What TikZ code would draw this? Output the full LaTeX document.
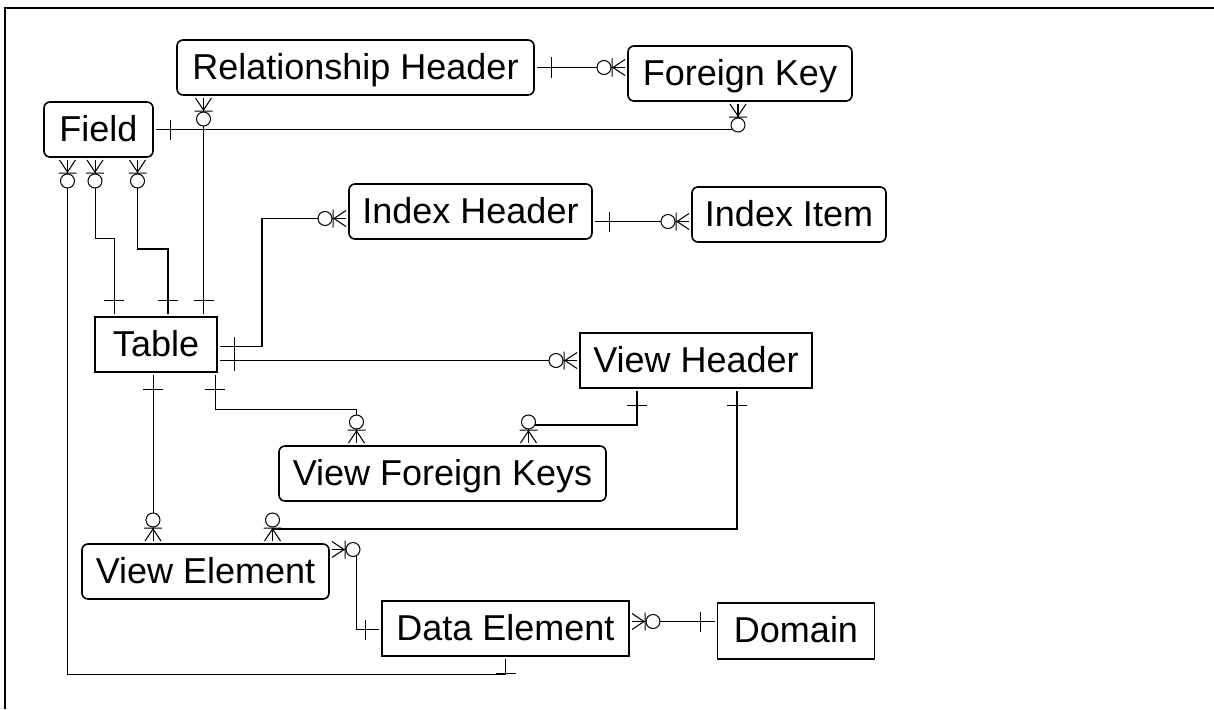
\documentclass[tikz,border=0pt]{standalone}
\usepackage{fontspec}
\setmainfont{Liberation Sans}
\usetikzlibrary{decorations.markings,calc}

% ER end marks, drawn with the outward direction along +x
\newcommand{\onemark}{\draw[line width=1pt] (14pt,-10pt) -- (14pt,10pt);}
\newcommand{\manymark}{%
  \draw[line width=1pt] (0pt,-8pt) -- (12pt,0pt) -- (0pt,8pt) (13pt,-9pt) -- (13pt,9pt);
  \draw[line width=1pt,fill=white] (21pt,0pt) circle[radius=7pt];}

\tikzset{
  entity/.style={draw,line width=1.6pt,minimum height=55pt,inner xsep=4pt,
    text height=30pt,text depth=7pt,outer sep=3pt,font=\fontsize{36}{40}\selectfont},
  roundent/.style={entity,rounded corners=6pt},
  rel/.style={line width=1.3pt},
  relthin/.style={line width=0.8pt},
  one-many/.style={postaction={decorate,decoration={markings,
      mark=at position 0 with {\onemark},
      mark=at position 1 with {\begin{scope}[xscale=-1]\manymark\end{scope}}}}},
  many-one/.style={postaction={decorate,decoration={markings,
      mark=at position 0 with {\manymark},
      mark=at position 1 with {\begin{scope}[xscale=-1]\onemark\end{scope}}}}}
}

\begin{document}
\begin{tikzpicture}[x=1pt,y=-1pt]
\useasboundingbox (0,0) rectangle (1214,709);
\draw[line width=2pt] (1214,8) -- (5,8) -- (5,709);

% entities
\node[roundent,minimum width=357pt] (relhdr) at (355.5,67.5) {Relationship Header};
\node[roundent,minimum width=224pt] (fkey) at (740,73.5) {Foreign Key};
\node[roundent,minimum width=109pt] (field) at (98.5,129.5) {Field};
\node[roundent,minimum width=243pt] (idxhdr) at (470.5,211.5) {Index Header};
\node[roundent,minimum width=194pt] (idxitem) at (789,214.5) {Index Item};
\node[entity,minimum width=122pt] (tbl) at (156,344.5) {Table};
\node[entity,minimum width=232pt] (viewhdr) at (696,360.5) {View Header};
\node[roundent,minimum width=327pt] (viewfk) at (442.5,473.5) {View Foreign Keys};
\node[roundent,minimum width=247pt] (viewel) at (205.5,571.5) {View Element};
\node[entity,minimum width=247pt] (dataet) at (505.5,628.5) {Data Element};
\node[entity,minimum width=157pt,minimum height=56pt] (domain) at (796,631) {Domain};

% relationships
\draw[rel,one-many] (field.east) -| ([xshift=-2pt]fkey.south);
\draw[rel,one-many] (relhdr.east) -- (relhdr.east -| fkey.west);
\draw[rel,many-one] ([xshift=-152pt]relhdr.south) -- ([xshift=-152pt]relhdr.south |- tbl.north);
\draw[relthin,many-one] ([xshift=-31pt]field.south) |- ([yshift=-15pt]dataet.south) -- (dataet.south);
\draw[relthin,many-one] ([xshift=-3.5pt]field.south) -- ++(0,78) -| ([xshift=-42pt]tbl.north);
\draw[rel,many-one] ([xshift=39pt]field.south) -- ++(0,89) -| ([xshift=12pt]tbl.north);
\draw[rel,one-many] ([yshift=-2pt]tbl.east) -- ++(42,0) |- ([yshift=-7pt]idxhdr.west);
\draw[rel,one-many] ([yshift=-10pt]idxhdr.east) -- ([yshift=-10pt]idxhdr.east -| idxitem.west);
\draw[relthin,one-many] (viewhdr.west -| tbl.east) -- (viewhdr.west);
\draw[relthin,one-many] ([xshift=59pt]tbl.south) -- ++(0,34) -| ([xshift=-86pt]viewfk.north);
\draw[relthin,one-many] ([xshift=-3pt]tbl.south) -- ([xshift=-3pt]tbl.south |- viewel.north);
\draw[rel,one-many] ([xshift=-59pt]viewhdr.south) -- ++(0,34) -| ([xshift=86pt]viewfk.north);
\draw[rel,one-many] ([xshift=41pt]viewhdr.south) |- ([xshift=67pt,yshift=12pt]viewel.north) -- ([xshift=67pt]viewel.north);
\draw[relthin,many-one] ([yshift=22pt]viewel.east) -- ++(24,0) |- ([yshift=-1pt]dataet.west);
\draw[relthin,many-one] ([yshift=7pt]dataet.east) -- ([yshift=7pt]dataet.east -| domain.west);
\end{tikzpicture}
\end{document}
